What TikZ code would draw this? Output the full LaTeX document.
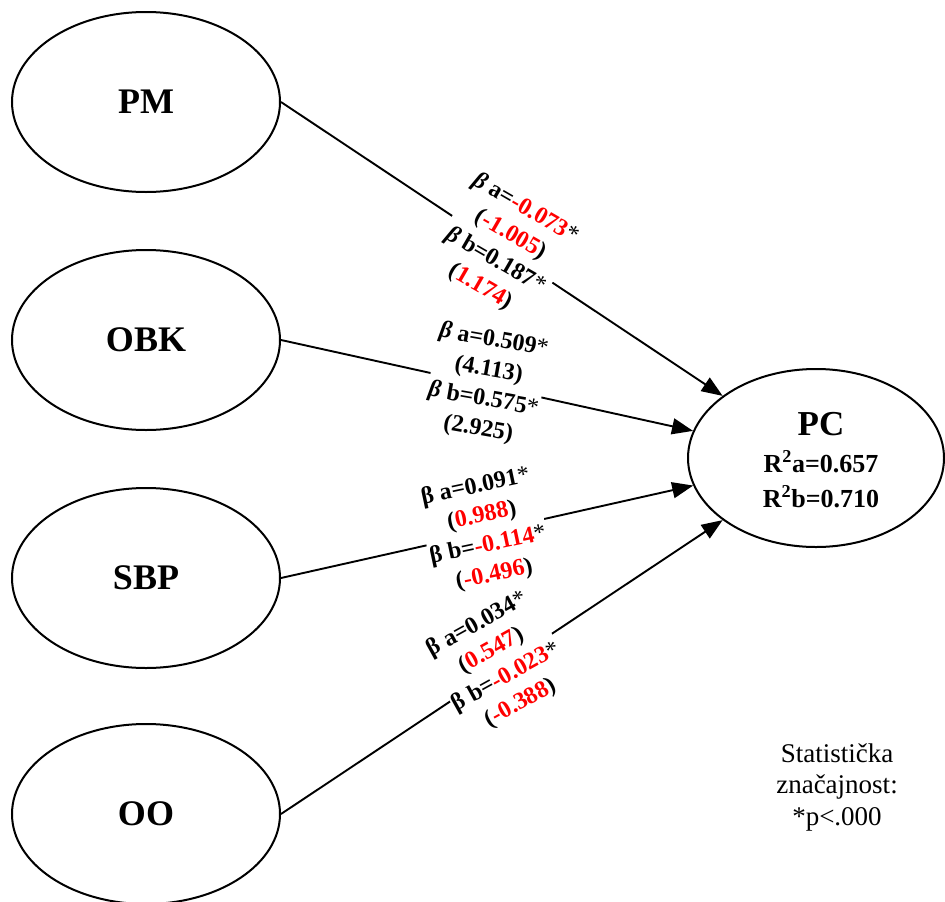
\documentclass[tikz,border=0pt]{standalone}
\usepackage{fontspec}
\setmainfont{Liberation Serif}
\usetikzlibrary{shapes.geometric,arrows.meta}

\begin{document}
\begin{tikzpicture}[x=1pt,y=-1pt,
  latent/.style={draw, ellipse, line width=2pt, minimum width=268pt,
    minimum height=180pt, inner sep=0pt,
    font=\fontsize{36}{40}\selectfont\bfseries},
  effect/.style={line width=1.9pt, -{Triangle[length=21pt,width=16pt]}},
  coef/.style={fill=white, inner sep=1pt, align=center,
    font=\fontsize{24}{30}\selectfont\bfseries},
  rsq/.style={anchor=base, font=\fontsize{26}{30}\selectfont\bfseries},
]
\useasboundingbox (0,0) rectangle (945,902);

% constructs
\node[latent] (PM)  at (146,102) {PM};
\node[latent] (OBK) at (146,340) {OBK};
\node[latent] (SBP) at (146,578) {SBP};
\node[latent] (OO)  at (146,814) {OO};
\node[latent, minimum width=256pt, minimum height=178pt] (PC) at (816,458) {};

% outcome label with explained variance
\node[anchor=base, font=\fontsize{35}{40}\selectfont\bfseries] (PCname) at (821,435) {PC};
\node[rsq] (PCra) at (821,472) {R\textsuperscript{2}a=0.657};
\node[rsq] (PCrb) at (821,507) {R\textsuperscript{2}b=0.710};

% structural paths
\draw[effect] (PM.east)  -- (PC);
\draw[effect] (OBK.east) -- (PC);
\draw[effect] (SBP.east) -- (PC);
\draw[effect] (OO.east)  -- (PC);

% path coefficients (t-values in brackets)
\node[coef, rotate=-30] (cPM) at (503,248)
  {{\itshape β} a=\textcolor{red}{-0.073}{\mdseries *}\\
   (\textcolor{red}{-1.005})\\
   {\itshape β} b=0.187{\mdseries *}\\
   (\textcolor{red}{1.174})};
\node[coef, rotate=-10] (cOBK) at (486,385)
  {{\itshape β} a=0.509{\mdseries *}\\
   (4.113)\\
   {\itshape β} b=0.575{\mdseries *}\\
   (2.925)};
\node[coef, rotate=12] (cSBP) at (485,531)
  {β a=0.091{\mdseries *}\\
   (\textcolor{red}{0.988})\\
   β b=\textcolor{red}{-0.114}{\mdseries *}\\
   (\textcolor{red}{-0.496})};
\node[coef, rotate=29] (cOO) at (499,664)
  {β a=0.034{\mdseries *}\\
   (\textcolor{red}{0.547})\\
   β b=\textcolor{red}{-0.023}{\mdseries *}\\
   (\textcolor{red}{-0.388})};

% significance note
\node[align=center, font=\fontsize{27}{31.5}\selectfont] (note) at (837,787)
  {Statistička\\značajnost:\\*p<.000};
\end{tikzpicture}
\end{document}
